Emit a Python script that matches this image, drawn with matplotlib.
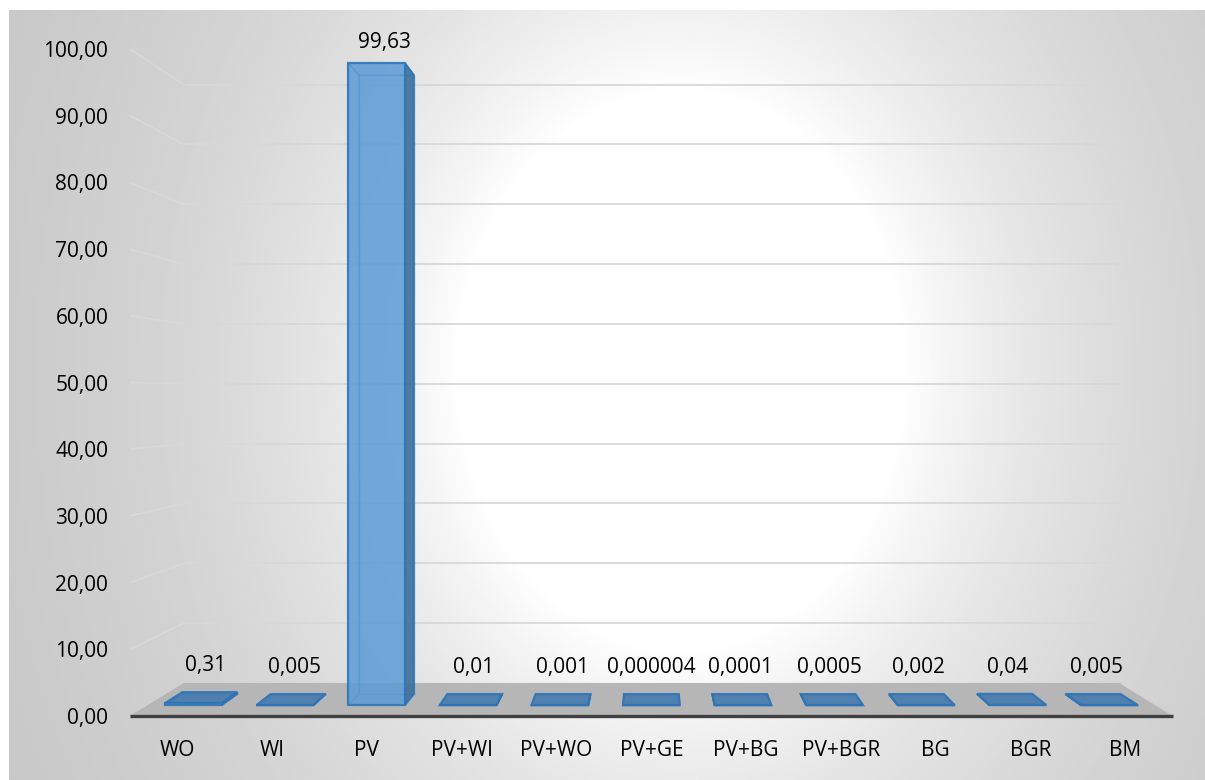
import numpy as np
import matplotlib
matplotlib.use("Agg")
import matplotlib.pyplot as plt
from matplotlib.patches import Polygon

# ---- data ----
categories = ["WO", "WI", "PV", "PV+WI", "PV+WO", "PV+GE", "PV+BG", "PV+BGR", "BG", "BGR", "BM"]
values = [0.31, 0.005, 99.63, 0.01, 0.001, 0.000004, 0.0001, 0.0005, 0.002, 0.04, 0.005]
y_ticks = [0, 10, 20, 30, 40, 50, 60, 70, 80, 90, 100]


def fmt_value(v):
    return np.format_float_positional(v, trim="-").replace(".", ",")


def fmt_tick(v):
    return f"{v:.2f}".replace(".", ",")


plt.rcParams["font.family"] = ["Open Sans", "DejaVu Sans"]

W, H = 1205, 780
fig = plt.figure(figsize=(W / 100, H / 100), dpi=100)
fig.patch.set_facecolor("white")

# ---- radial gradient chart-area background ----
bx0, by0 = 9, 10
bg = fig.add_axes([bx0 / W, 0, (W - bx0) / W, (H - by0) / H])
yy, xx = np.mgrid[by0:H:2, bx0:W:2].astype(float)
d = np.hypot(xx - 680, (yy - 370) * 0.8)
shade = 255 - 64 * (1 - np.exp(-np.clip(d - 220, 0, None) / 270))
bg.imshow(shade, cmap="gray", vmin=0, vmax=255, aspect="auto",
          interpolation="bilinear", extent=[bx0, W, H, by0])
bg.set_xlim(bx0, W)
bg.set_ylim(H, by0)
bg.axis("off")

# ---- main axes: front plane of the 3-D box ----
px_x, x0pix = 94.8, 177.4      # pixels per category, pixel of first category
px_y, y0pix = 6.67, 716        # pixels per unit, pixel of zero line
left_pix = 125
ax = fig.add_axes([left_pix / W, (H - y0pix) / H, (W - left_pix) / W, y0pix / H])
ax.set_xlim((left_pix - x0pix) / px_x, (W - x0pix) / px_x)
ax.set_ylim(0, y0pix / px_y)
ax.patch.set_alpha(0)
for sp in ax.spines.values():
    sp.set_visible(False)

# perspective about a vanishing point (in data units)
VX, VY = 5.0, 48.1
S_BACK = 0.897
S_BAR_F, S_BAR_B = 0.9665, 0.9316
HALF_W = 0.31
X_LO, X_HI = -0.5, len(categories) - 0.5


def proj(x, y, s):
    return (VX + (x - VX) * s, VY + (y - VY) * s)


grid_kw = dict(color="#d8d8d8", lw=1.3, solid_capstyle="butt", zorder=1, clip_on=False)
for v in y_ticks[1:]:
    xb0, yb = proj(X_LO, v, S_BACK)
    xb1, _ = proj(X_HI, v, S_BACK)
    ax.plot([xb0, xb1], [yb, yb], **grid_kw)
    ax.plot([X_LO, xb0], [v, yb], **grid_kw)

# floor
floor = Polygon([(X_LO, 0), (X_HI, 0), proj(X_HI, 0, S_BACK), proj(X_LO, 0, S_BACK)],
                closed=True, facecolor="#b6b6b6", edgecolor="none", zorder=2, clip_on=False)
ax.add_patch(floor)
ax.plot([X_LO, X_HI], [0, 0], color="#404040", lw=2.4, solid_capstyle="butt",
        zorder=3, clip_on=False)

# ---- 3-D columns ----
EDGE = "#2e75b6"
for i, v in enumerate(values):
    xl, xr = i - HALF_W, i + HALF_W
    F = [proj(xl, 0, S_BAR_F), proj(xr, 0, S_BAR_F), proj(xr, v, S_BAR_F), proj(xl, v, S_BAR_F)]
    B = [proj(xl, 0, S_BAR_B), proj(xr, 0, S_BAR_B), proj(xr, v, S_BAR_B), proj(xl, v, S_BAR_B)]
    faces = {
        "back": B,
        "left": [F[0], B[0], B[3], F[3]],
        "right": [F[1], B[1], B[2], F[2]],
        "top": [F[3], F[2], B[2], B[3]],
    }
    visible = {
        "back": False,
        "left": xl > VX,
        "right": xr < VX,
        "top": v < VY,
    }
    # hidden edges seen through the translucent faces
    for name, pts in faces.items():
        if not visible[name]:
            ax.add_patch(Polygon(pts, closed=True, facecolor="none", edgecolor=EDGE,
                                 lw=1.0, alpha=0.55, zorder=4, clip_on=False))
    for name in ("left", "right"):
        if visible[name]:
            ax.add_patch(Polygon(faces[name], closed=True, facecolor="#41719c", alpha=0.92,
                                 edgecolor=EDGE, lw=1.4, zorder=5, clip_on=False))
    if visible["top"]:
        ax.add_patch(Polygon(faces["top"], closed=True, facecolor="#3f77ad", alpha=0.85,
                             edgecolor=EDGE, lw=1.6, zorder=5, clip_on=False))
    ax.add_patch(Polygon(F, closed=True, facecolor="#5b9bd5", alpha=0.85,
                         edgecolor=EDGE, lw=1.6, zorder=6, clip_on=False))

    lx, ly = proj(i, v, 0.94)
    ax.annotate(fmt_value(v), (lx, ly), xytext=(0, 21), textcoords="offset points",
                ha="center", va="center", fontsize=15, color="black", zorder=7)

# ---- axis labels ----
ax.set_yticks(y_ticks, labels=[fmt_tick(t) for t in y_ticks])
ax.set_xticks(range(len(categories)), labels=categories)
ax.tick_params(axis="y", length=0, pad=12, labelsize=15, labelcolor="black")
ax.tick_params(axis="x", length=0, pad=17, labelsize=15, labelcolor="black")

fig.savefig("out.png", dpi=100, facecolor="white")
